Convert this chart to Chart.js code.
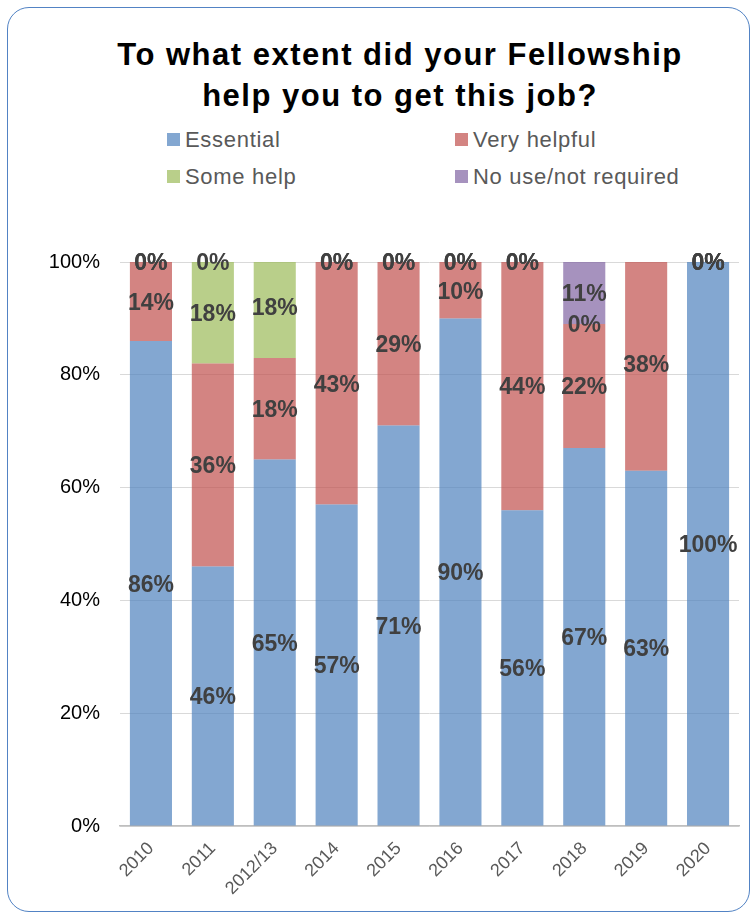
<!DOCTYPE html>
<html>
<head>
<meta charset="utf-8">
<script src="https://cdn.jsdelivr.net/npm/chart.js@4/dist/chart.umd.min.js"></script>
<style>
    body { margin: 0; background: #fff; font-family: "Liberation Sans", Arial, sans-serif; }
    #frame {
        position: absolute; left: 7px; top: 7px; width: 741px; height: 903px;
        border: 1.5px solid #5283c4; border-radius: 22px;
    }
    #title {
        position: absolute; left: 0; top: 34px; width: 800px; margin: 0;
        text-align: center; font-size: 31px; font-weight: bold; line-height: 41px;
        color: #000; letter-spacing: 1.5px;
    }
    .legend-item {
        position: absolute; font-size: 22px; line-height: 24px; color: #595959;
        white-space: nowrap; letter-spacing: 0.7px;
    }
    .legend-item span {
        display: inline-block; width: 13px; height: 13px; margin-right: 5px;
        vertical-align: 1px;
    }
    #chart { position: absolute; left: 0; top: 0; }
</style>
</head>
<body>
<div id="frame"></div>
<h1 id="title">To what extent did your Fellowship<br>help you to get this job?</h1>
<div id="legend"></div>
<canvas id="chart" width="752" height="914"></canvas>
<script>
document.addEventListener('DOMContentLoaded', () => {

    const years = ['2010', '2011', '2012/13', '2014', '2015', '2016', '2017', '2018', '2019', '2020'];
    const essential = [86, 46, 65, 57, 71, 90, 56, 67, 63, 100];
    const veryHelpful = [14, 36, 18, 43, 29, 10, 44, 22, 38, 0];
    const someHelp = [0, 18, 18, 0, 0, 0, 0, 0, null, 0];
    const noUse = [0, 0, null, 0, 0, 0, 0, 11, null, 0];
    const yTicks = [0, 20, 40, 60, 80, 100];

    const series = [
        { label: 'Essential', data: essential, color: 'rgba(79, 129, 189, 0.7)' },
        { label: 'Very helpful', data: veryHelpful, color: 'rgba(192, 80, 77, 0.7)' },
        { label: 'Some help', data: someHelp, color: 'rgba(155, 187, 89, 0.7)' },
        { label: 'No use/not required', data: noUse, color: 'rgba(128, 100, 162, 0.7)' }
    ];

    // two-column legend above the plot
    const legend = document.getElementById('legend');
    const legendPos = [[167, 128], [455, 128], [167, 165], [455, 165]];
    series.forEach((s, i) => {
        const item = document.createElement('div');
        item.className = 'legend-item';
        item.style.left = legendPos[i][0] + 'px';
        item.style.top = legendPos[i][1] + 'px';
        item.innerHTML = `<span style="background:${s.color}"></span>${s.label}`;
        legend.appendChild(item);
    });

    // value labels in the middle of every segment
    const barLabels = {
        id: 'barLabels',
        afterDatasetsDraw(chart) {
            const ctx = chart.ctx;
            ctx.save();
            ctx.font = 'bold 23px "Liberation Sans", Arial, sans-serif';
            ctx.fillStyle = '#404040';
            ctx.textAlign = 'center';
            ctx.textBaseline = 'middle';
            chart.data.datasets.forEach((ds, i) => {
                chart.getDatasetMeta(i).data.forEach((bar, j) => {
                    const v = ds.data[j];
                    if (v === null) return;
                    ctx.fillText(v + '%', bar.x, (bar.y + bar.base) / 2 + 2);
                });
            });
            ctx.restore();
        }
    };

    const ctx = document.getElementById('chart').getContext('2d');
    new Chart(ctx, {
        type: 'bar',
        data: {
            labels: years,
            datasets: series.map(s => ({
                label: s.label,
                data: s.data,
                backgroundColor: s.color,
                borderWidth: 0,
                categoryPercentage: 1,
                barPercentage: 0.68
            }))
        },
        options: {
            responsive: false,
            animation: false,
            devicePixelRatio: 1,
            layout: { padding: { top: 262, left: 30, right: 13, bottom: 0 } },
            plugins: {
                legend: { display: false },
                title: { display: false },
                tooltip: { enabled: false }
            },
            scales: {
                x: {
                    stacked: true,
                    grid: { display: false },
                    border: { display: true, color: '#bfbfbf', width: 1.5 },
                    ticks: {
                        minRotation: 45,
                        maxRotation: 45,
                        padding: 4,
                        color: '#595959',
                        font: { family: '"Liberation Sans", Arial, sans-serif', size: 18 }
                    },
                    afterFit(scale) { scale.height = 88; }
                },
                y: {
                    stacked: true,
                    min: 0,
                    max: 100,
                    afterBuildTicks(scale) { scale.ticks = yTicks.map(v => ({ value: v })); },
                    grid: { color: '#d9d9d9', lineWidth: 1, drawTicks: false },
                    border: { display: false },
                    ticks: {
                        padding: 20,
                        color: '#000',
                        font: { family: '"Liberation Sans", Arial, sans-serif', size: 20 },
                        callback: v => v + '%'
                    },
                    afterFit(scale) { scale.width = 90; }
                }
            }
        },
        plugins: [barLabels]
    });
});
</script>
</body>
</html>
